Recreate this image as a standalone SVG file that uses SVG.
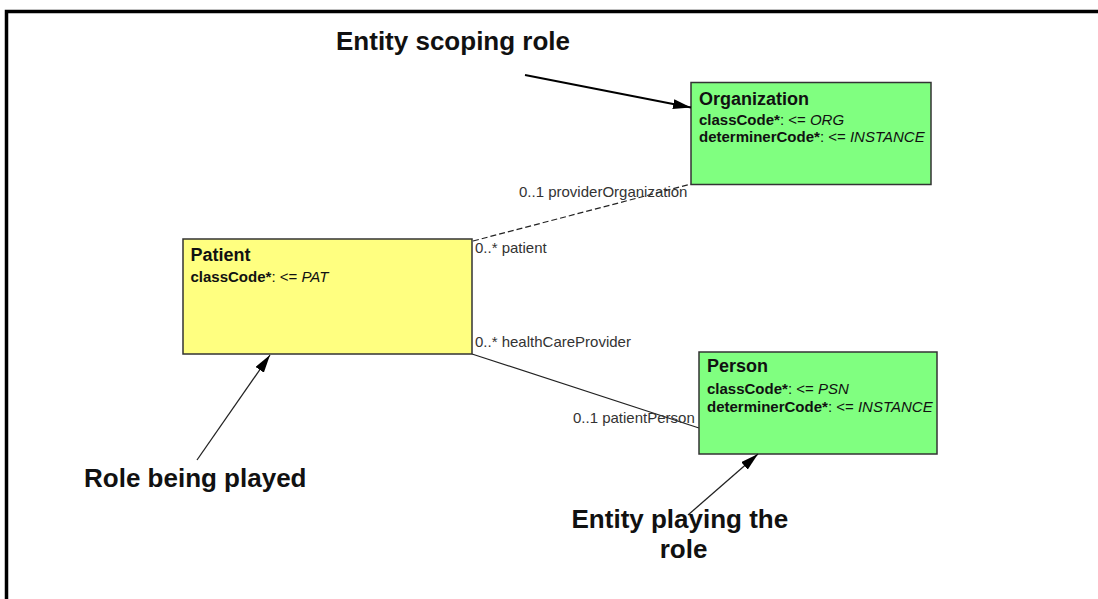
<svg xmlns="http://www.w3.org/2000/svg" width="1098" height="599" viewBox="0 0 1098 599">
  <style>
    .frame { fill: none; stroke: #000; stroke-width: 3.5; }
    .cls { stroke: #333; stroke-width: 1.5; }
    .entity { fill: #80ff80; }
    .role { fill: #ffff80; }
    .title { font-family: "Liberation Sans", Arial, sans-serif; font-size: 18px; font-weight: bold; fill: #111; }
    .attr { font-family: "Liberation Sans", Arial, sans-serif; font-size: 15px; fill: #111; }
    .attr .k { font-weight: bold; }
    .attr .v { font-style: italic; }
    .assoc { fill: none; stroke: #222; stroke-width: 1.2; }
    .dashed { stroke-dasharray: 6 3; }
    .end { font-family: "Liberation Sans", Arial, sans-serif; font-size: 15px; fill: #333; }
    .note { font-family: "Liberation Sans", Arial, sans-serif; font-size: 26px; font-weight: bold; fill: #111; }
    .pointer { fill: none; stroke: #222; stroke-width: 1.3; }
    .pointer.heavy { stroke: #000; stroke-width: 1.8; }
  </style>
  <defs>
    <marker id="head" viewBox="0 0 18 10" refX="18" refY="5" markerWidth="18" markerHeight="10" markerUnits="userSpaceOnUse" orient="auto">
      <path d="M0,0 L18,5 L0,10 Z" fill="#000"/>
    </marker>
  </defs>

  <rect width="1098" height="599" fill="#fff"/>
  <path class="frame" d="M6.5,599 V11.5 H1098"/>

  <g id="connectors">
    <line class="assoc dashed" x1="473" y1="241" x2="691" y2="184"/>
    <line class="assoc" x1="472" y1="354" x2="699" y2="428"/>
    <text class="end" x="519" y="197">0..1 providerOrganization</text>
    <text class="end" x="475" y="253">0..* patient</text>
    <text class="end" x="475" y="347">0..* healthCareProvider</text>
    <text class="end" x="573" y="423">0..1 patientPerson</text>
  </g>

  <g id="organization">
    <rect class="cls entity" x="691" y="82.5" width="240" height="102"/>
    <text class="title" x="699" y="104.5">Organization</text>
    <text class="attr" x="699" y="125"><tspan class="k">classCode*</tspan>: &lt;= <tspan class="v">ORG</tspan></text>
    <text class="attr" x="699" y="142"><tspan class="k">determinerCode*</tspan>: &lt;= <tspan class="v">INSTANCE</tspan></text>
  </g>

  <g id="patient">
    <rect class="cls role" x="183" y="239" width="289" height="115"/>
    <text class="title" x="190.5" y="260.5">Patient</text>
    <text class="attr" x="190.5" y="282"><tspan class="k">classCode*</tspan>: &lt;= <tspan class="v">PAT</tspan></text>
  </g>

  <g id="person">
    <rect class="cls entity" x="699" y="352" width="238" height="102"/>
    <text class="title" x="707" y="372">Person</text>
    <text class="attr" x="707" y="393.5"><tspan class="k">classCode*</tspan>: &lt;= <tspan class="v">PSN</tspan></text>
    <text class="attr" x="707" y="412"><tspan class="k">determinerCode*</tspan>: &lt;= <tspan class="v">INSTANCE</tspan></text>
  </g>

  <g id="annotations">
    <text class="note" x="336" y="50">Entity scoping role</text>
    <line class="pointer heavy" x1="525" y1="75" x2="691" y2="107.5" marker-end="url(#head)"/>

    <text class="note" x="84" y="487">Role being played</text>
    <line class="pointer" x1="197" y1="460" x2="270" y2="355" marker-end="url(#head)"/>

    <text class="note" text-anchor="middle">
      <tspan x="683.5" y="528">Entity playing the</tspan>
      <tspan x="683.5" y="558">role</tspan>
    </text>
    <line class="pointer" x1="688" y1="515" x2="758" y2="454" marker-end="url(#head)"/>
  </g>
</svg>
